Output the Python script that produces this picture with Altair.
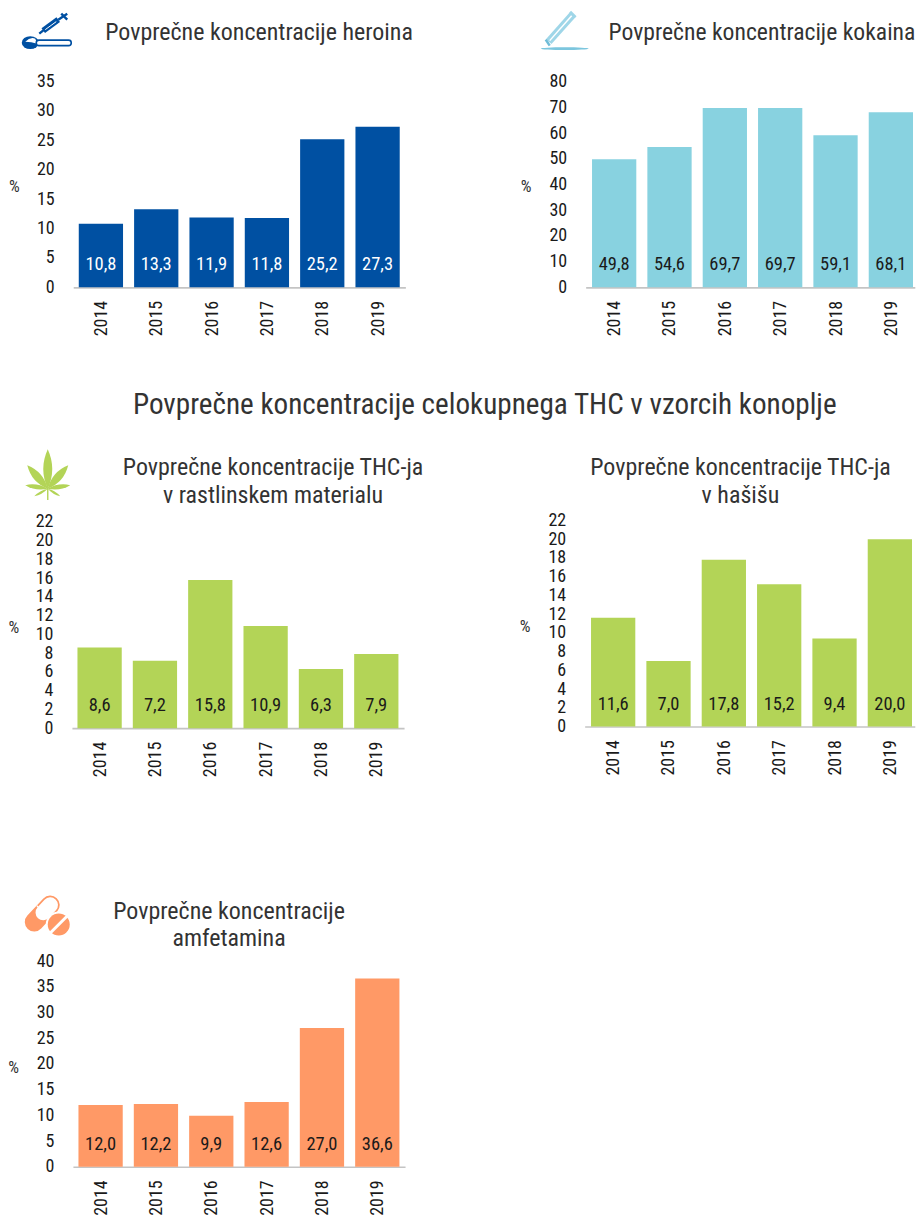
import urllib.parse
import altair as alt
import pandas as pd

YEARS = ["2014", "2015", "2016", "2017", "2018", "2019"]
HEROIN = [10.8, 13.3, 11.9, 11.8, 25.2, 27.3]
COCAINE = [49.8, 54.6, 69.7, 69.7, 59.1, 68.1]
HERB = [8.6, 7.2, 15.8, 10.9, 6.3, 7.9]
HASH = [11.6, 7.0, 17.8, 15.2, 9.4, 20.0]
AMPH = [12.0, 12.2, 9.9, 12.6, 27.0, 36.6]
TICKS_HEROIN = [0, 5, 10, 15, 20, 25, 30, 35]
TICKS_COCAINE = [0, 10, 20, 30, 40, 50, 60, 70, 80]
TICKS_THC = [0, 2, 4, 6, 8, 10, 12, 14, 16, 18, 20, 22]
TICKS_AMPH = [0, 5, 10, 15, 20, 25, 30, 35, 40]

BLUE, CYAN, GREEN, ORANGE = "#0050a2", "#88d2e0", "#b3d457", "#ff9966"
FONT = "Roboto Condensed, Liberation Sans Narrow, Roboto"
TEXT = "#1a1a1a"
TITLE = "#333333"


def svg_uri(w, h, body, vy=0):
    svg = (f'<svg xmlns="http://www.w3.org/2000/svg" width="{w}" height="{h}" '
           f'viewBox="0 {vy} {w} {h}">{body}</svg>')
    return "data:image/svg+xml," + urllib.parse.quote(svg)


ICON_SPOON = svg_uri(70, 47, f'''
<ellipse cx="15" cy="37" rx="8.5" ry="6.5" fill="{BLUE}"/>
<path d="M10 36 Q15 31 20 33 L22 38 Q16 36 10 36Z" fill="#fff"/>
<rect x="21" y="34.5" width="35" height="5.5" rx="2.7" fill="#fff" stroke="{BLUE}" stroke-width="1.6"/>
<path d="M28 25 L43 14" stroke="{BLUE}" stroke-width="6" fill="none"/>
<path d="M43 14 L52 8 M46 8 L52 14 M24 28 L29 24" stroke="{BLUE}" stroke-width="2.4" fill="none"/>
<path d="M30 24 L41 16" stroke="#fff" stroke-width="1" fill="none"/>''', vy=3)

ICON_PEN = svg_uri(70, 47, f'''
<path d="M14 36 L38 9" stroke="#9fd6e8" stroke-width="7.5" fill="none"/>
<path d="M15 35 L37 10" stroke="#fff" stroke-width="1.5" fill="none"/>
<path d="M35.5 6 L41 11.5" stroke="#9fd6e8" stroke-width="2.5" fill="none"/>
<path d="M11 34 L15 40" stroke="#6fbcd8" stroke-width="2.5" fill="none"/>
<ellipse cx="30" cy="43" rx="24" ry="1.4" fill="#7cc6de"/>''', vy=3)


def leaflet(tx, ty, w):
    cx, cy = 32.5, 46.5
    mx, my = (cx + tx) / 2, (cy + ty) / 2
    dx, dy = tx - cx, ty - cy
    n = (dx * dx + dy * dy) ** 0.5
    ox, oy = -dy / n * w, dx / n * w
    return (f'<path d="M{cx} {cy} Q{mx + ox:.1f} {my + oy:.1f} {tx} {ty} '
            f'Q{mx - ox:.1f} {my - oy:.1f} {cx} {cy}Z" fill="{GREEN}"/>')


ICON_LEAF = svg_uri(70, 62, "".join([
    leaflet(32.5, 7, 9), leaflet(12, 23, 8), leaflet(53, 23, 8),
    leaflet(10, 43, 4.5), leaflet(55, 43, 4.5), leaflet(19, 54, 2.5), leaflet(45, 54, 2.5),
    f'<path d="M32.5 45 L32.5 58" stroke="{GREEN}" stroke-width="1.4"/>',
]))

ICON_PILLS = svg_uri(70, 55, f'''
<line x1="19" y1="32" x2="35" y2="15" stroke="{ORANGE}" stroke-width="19" stroke-linecap="round"/>
<line x1="28" y1="22.5" x2="35" y2="15" stroke="#fff" stroke-width="15.5" stroke-linecap="round"/>
<line x1="21.5" y1="15.5" x2="32.5" y2="27" stroke="#fff" stroke-width="1.2"/>
<circle cx="43.5" cy="34.5" r="13" fill="#fff"/>
<circle cx="43.5" cy="34.5" r="11" fill="{ORANGE}"/>
<path d="M35 43 L52 26" stroke="#fff" stroke-width="3"/>''')


def text_layer(s, x, y, size, color):
    return alt.Chart(pd.DataFrame({"t": [s]})).mark_text(
        font=FONT, fontSize=size, color=color, align="center", baseline="middle"
    ).encode(x=alt.value(x), y=alt.value(y), text="t:N")


def panel(values, ticks, color, labelcolor, titles, dx, x0, base, h, icon, pct,
          view_w=333, w=332.5, left_pad=0.1):
    """Positions are page pixels; x0 is the view's left edge, base the zero line."""
    df = pd.DataFrame({"year": YEARS, "v": values,
                       "lab": [f"{v:.1f}".replace(".", ",") for v in values]})
    top = base - h
    step = 55.4
    outer = (w / step - 5.8) / 2
    align = left_pad / (2 * outer)
    x = alt.X("year:N", title=None,
              scale=alt.Scale(range=[dx, dx + w], paddingInner=0.2, paddingOuter=outer,
                              align=min(align, 1), round=False),
              axis=alt.Axis(labelAngle=-90, labelFont=FONT, labelFontSize=18, labelColor=TEXT,
                            labelPadding=13, ticks=False, domainColor="#c4c4c4", domainWidth=1.6,
                            labelBaseline="middle", labelAlign="right", labelOffset=1))
    y = alt.Y("v:Q", title=None, scale=alt.Scale(domain=[ticks[0], ticks[-1]], nice=False),
              axis=alt.Axis(values=ticks, labelFont=FONT, labelFontSize=18, labelColor=TEXT,
                            labelPadding=19 - dx, ticks=False, domain=False, grid=False,
                            labelOverlap=False, labelFlush=False))
    bars = alt.Chart(df).mark_bar(color=color).encode(x=x, y=y)
    labels = alt.Chart(df).mark_text(font=FONT, fontSize=18.5, color=labelcolor, baseline="middle").encode(
        x=alt.X("year:N"), y=alt.value(h - 23), text="lab:N")
    layers = [bars, labels]
    for s, tx, ty, size in titles:
        layers.append(text_layer(s, tx - x0, ty - top, size, TITLE))
    if icon:
        u, ix, iy, iw, ih = icon
        layers.append(alt.Chart(pd.DataFrame({"u": [u]})).mark_image(
            width=iw, height=ih, align="left", baseline="top").encode(
            url="u:N", x=alt.value(ix - x0), y=alt.value(iy - top)))
    layers.append(text_layer("%", pct[0] - x0, pct[1] - top, 17, TITLE))
    return alt.layer(*layers).properties(width=view_w, height=h)


X1, X2 = 71.7, 585.0
p1 = panel(HEROIN, TICKS_HEROIN, BLUE, "#ffffff",
           [("Povprečne koncentracije heroina", 259, 32, 24)], 1.3, X1, 287, 206,
           (ICON_SPOON, 15, 8, 70, 47), (14, 187))
p2 = panel(COCAINE, TICKS_COCAINE, CYAN, TEXT,
           [("Povprečne koncentracije kokaina", 762.5, 32, 23.7)], 1.0, X2, 287, 206,
           (ICON_PEN, 535, 8, 70, 47), (526.5, 187), view_w=330.5, w=329.5, left_pad=0.115)
p3 = panel(HERB, TICKS_THC, GREEN, TEXT,
           [("Povprečne koncentracije celokupnega THC v vzorcih konoplje", 485, 405, 29.2),
            ("Povprečne koncentracije THC-ja", 273, 468, 24),
            ("v rastlinskem materialu", 273, 496, 24)],
           0.0, X1, 728.3, 206.6, (ICON_LEAF, 15, 442, 70, 62), (13.5, 628))
p4 = panel(HASH, TICKS_THC, GREEN, TEXT,
           [("Povprečne koncentracije THC-ja", 741, 468, 24), ("v hašišu", 741, 496, 24)],
           0.0, X2, 726.7, 206.4, None, (525.5, 627), view_w=330.5, w=330.5, left_pad=0.115)
p5 = panel(AMPH, TICKS_AMPH, ORANGE, TEXT,
           [("Povprečne koncentracije", 229, 912, 24), ("amfetamina", 229, 939, 24)],
           1.0, X1, 1167, 206, (ICON_PILLS, 15, 890, 70, 55), (13.3, 1068))

col1 = alt.vconcat(p1, alt.vconcat(p3, p5, spacing=232.7, bounds="flush"), spacing=234.7, bounds="flush")
col2 = alt.vconcat(p2, p4, spacing=233.3, bounds="flush")
chart = alt.hconcat(col1, col2, spacing=X2 - X1, bounds="flush").properties(
    padding={"left": 0, "top": 0, "right": 0, "bottom": 0}, background="#ffffff"
).configure_view(stroke=None)

chart.save("out.html", embed_options={"renderer": "svg", "actions": False})
